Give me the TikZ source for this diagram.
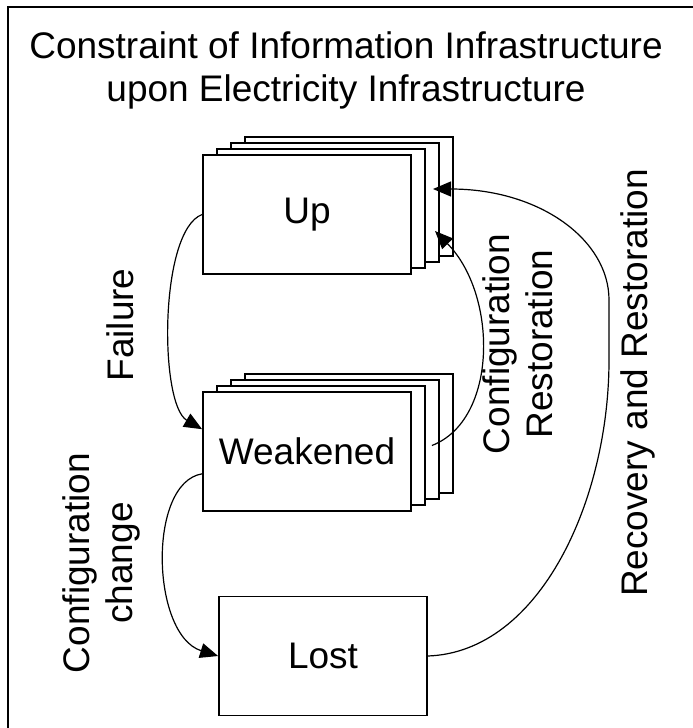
\documentclass[tikz,border=0pt]{standalone}
\usepackage{fontspec}
\setmainfont{Liberation Sans}
\usetikzlibrary{
	positioning,
	arrows.meta
}
\newcommand\diagfont{\fontsize{37}{43}\selectfont}
\tikzset{
	every node/.style={
		font=\diagfont
	},
	layer/.style={
		draw, fill=white, line width=1.8pt,
		minimum width=208pt, minimum height=119pt, inner sep=0pt
	},
	link/.style={
		line width=1.2pt,
		-{Triangle[length=18pt,width=15pt]}
	},
	sidelabel/.style={
		rotate=90, align=center, inner sep=0pt
	}
}

\begin{document}
\begin{tikzpicture}[x=1pt,y=-1pt]
		\useasboundingbox (0,0) rectangle (693,728);
		\draw[line width=1.3pt] (8,728) |- (693,7);

		\node[align=center,inner sep=0pt] (title) at (346,70)
			{Constraint of Information Infrastructure\\upon Electricity Infrastructure};

		% copies stacked behind Up and Weakened
		\foreach \s/\y in {up/214.5,weak/451.5}
			\foreach \i in {3,2,1}
				\node[layer] (\s\i) at (307+14*\i,\y-6*\i) {};

		\node[layer] (up)   at (307,214.5) {Up};
		\node[layer] (weak) at (307,451.5) {Weakened};
		\node[layer] (lost) at (323,656)   {Lost};

		\coordinate (crin) at (435,231);
		\coordinate (rrin) at (433,189);

		\draw[link] (up.west) .. controls +(-43,16) and +(-43,-25) .. (weak.168);
		\draw[link] (weak.192) .. controls +(-55,9) and +(-67,-21) .. (lost.west);
		\draw[link] ([xshift=6pt]weak1.east) .. controls (498,420) and (498,295) .. (crin);
		\draw[link] (lost.east) .. controls (540,652) and (609,500) .. (609,360)
			-- (609,300) .. controls (609,240) and (540,189) .. (rrin);

		\node[sidelabel] (failure)  at (120,325) {Failure};
		\node[sidelabel] (change)   at (101,563) {Configuration\\change};
		\node[sidelabel] (restore)  at (518,344) {Configuration\\Restoration};
		\node[sidelabel] (recovery) at (638,383) {Recovery and Restoration};
	\end{tikzpicture}
\end{document}
